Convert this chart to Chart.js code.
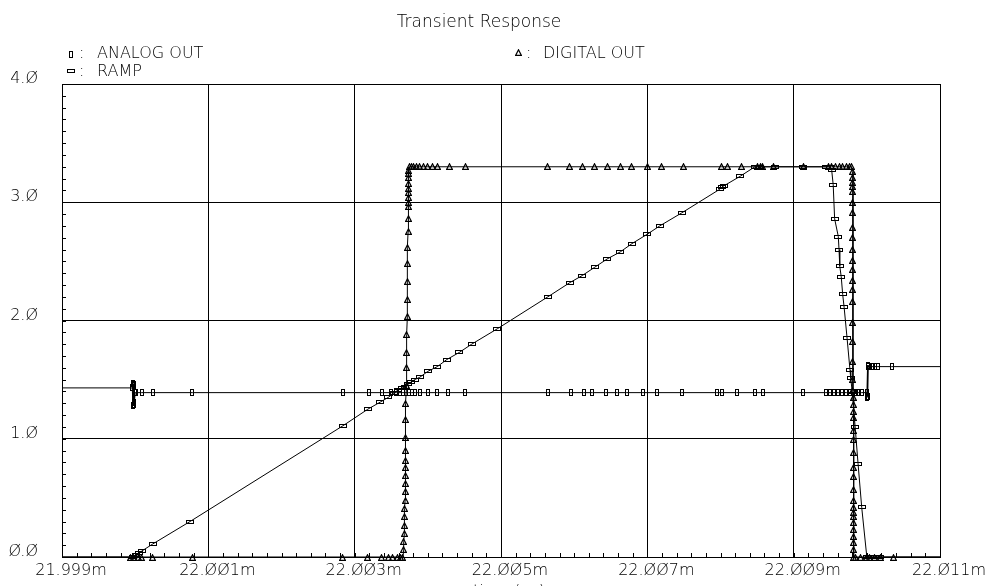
<!DOCTYPE html>
<html>
<head>
<meta charset="utf-8">
<title>Transient Response</title>
<script src="https://cdn.jsdelivr.net/npm/chart.js@4.4.1/dist/chart.umd.min.js"></script>
<style>
  html,body{margin:0;padding:0;background:#fff;}
  #wrap{width:990px;height:586px;overflow:hidden;}
</style>
</head>
<body>
<div id="wrap"><canvas id="chart" width="990" height="586"></canvas></div>
<script>
/* Transient Response - ANALOG OUT / RAMP / DIGITAL OUT
   tempi in ms (asse 21.999m .. 22.011m), tensioni in V */

const TITLE = 'Transient Response';
const X_TITLE = 'time ( s )';
const SERIES_NAMES = ['ANALOG OUT', 'RAMP', 'DIGITAL OUT'];

const xTickValues = [21.999, 22.001, 22.003, 22.005, 22.007, 22.009, 22.011];
const xTickLabels = ['21.999m','22.001m','22.003m','22.005m','22.007m','22.009m','22.011m'];
const yTickValues = [0, 1, 2, 3, 4];
const yTickLabels = ['0.0','1.0','2.0','3.0','4.0'];

// ANALOG OUT
const analogT = [21.999, 21.99996, 21.99997, 21.99997, 21.99998, 21.99998, 21.99999, 21.99999, 22.00000,
  22.00001, 22.00009, 22.00024, 22.00078,
  22.00284, 22.00319, 22.00338, 22.00349, 22.00357, 22.00362, 22.00366, 22.00370, 22.00374, 22.00378,
  22.00383, 22.00389, 22.00400, 22.00413, 22.00428, 22.00451, 22.00564, 22.00595, 22.00613, 22.00625,
  22.00643, 22.00659, 22.00672, 22.00694, 22.00713, 22.00747, 22.00795, 22.00802, 22.00822, 22.00847,
  22.00858, 22.00913, 22.00944, 22.00950, 22.00955, 22.00961, 22.00966, 22.00972, 22.00977, 22.00981,
  22.00985, 22.00988, 22.00993, 22.01000, 22.01000, 22.01001, 22.01001, 22.01002, 22.01002,
  22.01007, 22.01009, 22.01011, 22.01015, 22.01034, 22.011];
const analogV = [1.43, 1.43, 1.47, 1.28, 1.46, 1.29, 1.45, 1.31, 1.39,
  1.39, 1.39, 1.39, 1.39,
  1.39, 1.39, 1.39, 1.39, 1.39, 1.39, 1.39, 1.39, 1.39, 1.39,
  1.39, 1.39, 1.39, 1.39, 1.39, 1.39, 1.39, 1.39, 1.39, 1.39,
  1.39, 1.39, 1.39, 1.39, 1.39, 1.39, 1.39, 1.39, 1.39, 1.39,
  1.39, 1.39, 1.39, 1.39, 1.39, 1.39, 1.39, 1.39, 1.39, 1.39,
  1.39, 1.39, 1.39, 1.39, 1.35, 1.62, 1.36, 1.62, 1.61,
  1.61, 1.61, 1.61, 1.61, 1.61, 1.61];

// RAMP
const rampT = [21.999, 21.99997, 22.00001, 22.00005, 22.00009, 22.00024, 22.00075, 22.00284, 22.00318,
  22.00335, 22.00346, 22.00354, 22.00359, 22.00365, 22.00369, 22.00373, 22.00377, 22.00382, 22.00389,
  22.00400, 22.00413, 22.00426, 22.00443, 22.00460, 22.00495, 22.00564, 22.00594, 22.00611, 22.00628,
  22.00645, 22.00663, 22.00679, 22.00700, 22.00717, 22.00747, 22.00799, 22.00802, 22.00805, 22.00827,
  22.00847, 22.00854, 22.00874, 22.00913, 22.00944, 22.00950, 22.00952, 22.00954, 22.00956, 22.00961,
  22.00962, 22.00963, 22.00965, 22.00967, 22.00969, 22.00973, 22.00977, 22.00978, 22.00980, 22.00984,
  22.00988, 22.00993, 22.01000, 22.01004, 22.01011, 22.01018, 22.011];
const rampV = [0, 0, 0.02, 0.03, 0.05, 0.11, 0.30, 1.11, 1.25,
  1.31, 1.35, 1.39, 1.41, 1.43, 1.44, 1.46, 1.48, 1.50, 1.52,
  1.57, 1.61, 1.67, 1.73, 1.80, 1.93, 2.20, 2.32, 2.38, 2.45,
  2.52, 2.58, 2.65, 2.73, 2.80, 2.91, 3.11, 3.13, 3.14, 3.22,
  3.30, 3.30, 3.30, 3.30, 3.30, 3.30, 3.27, 3.15, 2.86, 2.71,
  2.60, 2.46, 2.37, 2.22, 2.11, 1.85, 1.58, 1.51, 1.40, 1.10,
  0.79, 0.42, 0, 0, 0, 0, 0];

// DIGITAL OUT
const digitalT = [21.999, 21.99993, 21.99998, 22.00004, 22.00009, 22.00024, 22.00078, 22.00283, 22.00318,
  22.00337, 22.00346, 22.00352, 22.00358, 22.00362, 22.00366,
  22.00367, 22.00367, 22.00368, 22.00368, 22.00368, 22.00368, 22.00369, 22.00369, 22.00369, 22.00369,
  22.00369, 22.00369, 22.00370, 22.00370, 22.00370, 22.00370, 22.00371, 22.00371, 22.00371, 22.00371,
  22.00372, 22.00372, 22.00372, 22.00372, 22.00372, 22.00373, 22.00373, 22.00373, 22.00373, 22.00373,
  22.00373, 22.00374, 22.00374, 22.00374, 22.00374, 22.00374, 22.00375,
  22.00377, 22.00381, 22.00385, 22.00389, 22.00394, 22.00400, 22.00406, 22.00413, 22.00429, 22.00451,
  22.00564, 22.00594, 22.00611, 22.00628, 22.00645, 22.00663, 22.00679, 22.00700, 22.00720, 22.00749,
  22.00802, 22.00809, 22.00829, 22.00850, 22.00854, 22.00858, 22.00872, 22.00913, 22.00947, 22.00952,
  22.00957, 22.00962, 22.00967, 22.00972, 22.00976, 22.00979,
  22.00981, 22.00981, 22.00981, 22.00981, 22.00981, 22.00981, 22.00981, 22.00981, 22.00981, 22.00981,
  22.00981, 22.00981, 22.00981, 22.00981, 22.00981, 22.00981, 22.00981, 22.00981, 22.00981, 22.00981,
  22.00982, 22.00982, 22.00982, 22.00982, 22.00982, 22.00982, 22.00982, 22.00982, 22.00982, 22.00982,
  22.00982, 22.00982, 22.00982, 22.00982, 22.00982, 22.00982, 22.00982, 22.00982, 22.00982, 22.00982,
  22.00985, 22.00991, 22.00999, 22.01004, 22.01011, 22.01018, 22.01036, 22.011];
const digitalV = [0, 0, 0, 0, 0, 0, 0, 0, 0,
  0, 0, 0, 0, 0, 0,
  0.06, 0.13, 0.20, 0.27, 0.34, 0.41, 0.48, 0.55, 0.62, 0.69,
  0.76, 0.82, 0.90, 1.01, 1.16, 1.30, 1.45, 1.60, 1.73, 1.88,
  2.03, 2.18, 2.33, 2.48, 2.62, 2.75, 2.86, 2.96, 3.00, 3.04,
  3.08, 3.12, 3.16, 3.21, 3.24, 3.27, 3.30,
  3.30, 3.30, 3.30, 3.30, 3.30, 3.30, 3.30, 3.30, 3.30, 3.30,
  3.30, 3.30, 3.30, 3.30, 3.30, 3.30, 3.30, 3.30, 3.30, 3.30,
  3.30, 3.30, 3.30, 3.30, 3.30, 3.30, 3.30, 3.30, 3.30, 3.30,
  3.30, 3.30, 3.30, 3.30, 3.30, 3.30,
  3.26, 3.21, 3.17, 3.13, 3.09, 3.00, 2.91, 2.79, 2.70, 2.60,
  2.51, 2.43, 2.34, 2.26, 2.16, 1.98, 1.82, 1.65, 1.50, 1.41,
  1.35, 1.29, 1.23, 1.18, 1.07, 0.99, 0.88, 0.76, 0.68, 0.57,
  0.48, 0.42, 0.38, 0.34, 0.29, 0.23, 0.17, 0.12, 0.06, 0,
  0, 0, 0, 0, 0, 0, 0, 0];

const FONT = '"DejaVu Sans", sans-serif';
const INK = '#000';

// piccoli marker disegnati su canvas (stile Cadence), solo contorno
function markCanvas(w, h, draw){
  const c = document.createElement('canvas');
  c.width = w; c.height = h;
  const g = c.getContext('2d');
  g.strokeStyle = INK; g.lineWidth = 1;
  draw(g, w, h);
  return c;
}
const MARK_ANALOG = markCanvas(4, 7, (g,w,h)=>{ g.strokeRect(0.5,0.5,w-1,h-1); });
const MARK_RAMP = markCanvas(8, 4, (g,w,h)=>{ g.strokeRect(0.5,0.5,w-1,h-1); });
const MARK_DIGITAL = markCanvas(7, 7, (g)=>{
  g.lineWidth = 1.2;
  g.beginPath(); g.moveTo(3.5,0.8); g.lineTo(6.4,6.4); g.lineTo(0.6,6.4); g.closePath(); g.stroke();
});
const MARKS = [MARK_ANALOG, MARK_RAMP, MARK_DIGITAL];

const slashZero = s => s.replace(/0/g, '\u00D8');
const toXY = (ts, vs) => ts.map((t,i)=>({x:t, y:vs[i]}));

function series(label, ts, vs){
  return {
    label, data: toXY(ts, vs),
    borderColor: INK, borderWidth: 1, backgroundColor: INK,
    pointRadius: 0, pointHoverRadius: 0,
    tension: 0, clip: false
  };
}

// marker su pixel interi (il primo e l'ultimo punto sono i bordi finestra: niente marker)
const markers = {
  id: 'markers',
  afterDatasetsDraw(chart){
    const ctx = chart.ctx;
    for(let d = chart.data.datasets.length-1; d >= 0; d--){
      const pts = chart.getDatasetMeta(d).data;
      const m = MARKS[d];
      pts.forEach((p, i)=>{
        if(i === 0 || i === pts.length-1) return;
        ctx.drawImage(m, Math.round(p.x - m.width/2), Math.round(p.y - m.height/2));
      });
    }
  }
};

// tacche minori: 0.1 V sull'asse y, 0.2us sull'asse x
const minorTicks = {
  id: 'minorTicks',
  beforeDatasetsDraw(chart){
    const {ctx, scales:{x, y}, chartArea:a} = chart;
    ctx.save();
    ctx.strokeStyle = INK; ctx.lineWidth = 1;
    ctx.beginPath();
    for(let k=1;k<40;k++){
      const py = Math.round(y.getPixelForValue(k/10)) + 0.5;
      ctx.moveTo(a.left, py); ctx.lineTo(a.left+4, py);
    }
    for(let k=1;k<60;k++){
      const px = Math.round(x.getPixelForValue(21.999 + k*0.0002)) + 0.5;
      ctx.moveTo(px, a.bottom); ctx.lineTo(px, a.bottom-4);
    }
    ctx.stroke();
    ctx.restore();
  }
};

const textLayer = {
  id: 'textLayer',
  afterDraw(chart){
    const c = chart.ctx;
    c.save();
    c.fillStyle = INK;
    c.textBaseline = 'alphabetic';
    c.textAlign = 'center';
    c.font = '200 17px ' + FONT;
    c.fillText(TITLE, 479, 27);
    c.font = '200 16px ' + FONT;
    c.fillText(X_TITLE, 509, 596);
    c.textAlign = 'left';
    const legend = [
      {mx: 71, my: 54, tx: 97, ty: 58},
      {mx: 71, my: 71, tx: 97, ty: 76},
      {mx: 518, my: 52, tx: 543, ty: 58}
    ];
    legend.forEach((l,i)=>{
      const m = MARKS[i];
      c.drawImage(m, Math.round(l.mx - m.width/2), Math.round(l.my - m.height/2));
      c.fillText(':', l.mx + 8, l.ty);
      c.fillText(SERIES_NAMES[i], l.tx, l.ty);
    });
    c.restore();
  }
};

new Chart(document.getElementById('chart'), {
  type: 'line',
  data: {
    datasets: [
      series(SERIES_NAMES[0], analogT, analogV),
      series(SERIES_NAMES[1], rampT, rampV),
      series(SERIES_NAMES[2], digitalT, digitalV)
    ]
  },
  options: {
    responsive: false,
    animation: false,
    events: [],
    layout: {padding: {top: 84, right: 50, left: 0, bottom: 0}},
    plugins: {legend: {display: false}, tooltip: {enabled: false}},
    scales: {
      x: {
        type: 'linear', min: 21.999, max: 22.011,
        afterFit: s => { s.height = 29; s.paddingLeft = 0; s.paddingRight = 0; },
        afterBuildTicks: s => { s.ticks = xTickValues.map(v => ({value: v})); },
        grid: {color: INK, lineWidth: 1, drawTicks: false},
        border: {display: true, color: INK},
        ticks: {
          color: INK, font: {family: FONT, size: 16, weight: 200}, padding: 4, labelOffset: 9,
          maxRotation: 0, autoSkip: false,
          callback: (v, i) => slashZero(xTickLabels[i])
        }
      },
      y: {
        min: 0, max: 4,
        afterFit: s => { s.width = 62; s.paddingTop = 0; s.paddingBottom = 0; },
        afterBuildTicks: s => { s.ticks = yTickValues.map(v => ({value: v})); },
        grid: {color: INK, lineWidth: 1, drawTicks: false},
        border: {display: true, color: INK},
        ticks: {
          color: INK, font: {family: FONT, size: 16, weight: 200}, padding: 24, labelOffset: -5,
          callback: (v, i) => slashZero(yTickLabels[i])
        }
      }
    }
  },
  plugins: [minorTicks, markers, textLayer]
});
</script>
</body>
</html>
